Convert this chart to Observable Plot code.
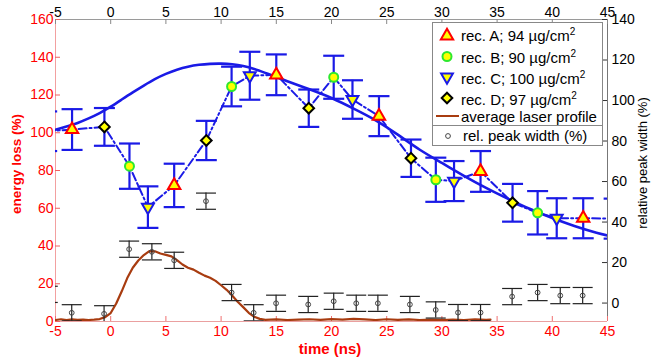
<!DOCTYPE html>
<html><head><meta charset="utf-8">
<script src="https://cdn.jsdelivr.net/npm/d3@7"></script>
<script src="https://cdn.jsdelivr.net/npm/@observablehq/plot@0.6"></script>
<style>
html,body{margin:0;padding:0;background:#fff;}
#wrap{position:relative;width:651px;height:363px;font-family:"Liberation Sans",Arial,Helvetica,sans-serif;overflow:hidden;}
#wrap svg{position:absolute;left:0;top:0;}
.lbl{position:absolute;white-space:nowrap;transform:translate(-50%,-50%);line-height:1;}
</style></head><body><div id="wrap"></div>
<script>
// ---- data ----
const xTicks = [-5, 0, 5, 10, 15, 20, 25, 30, 35, 40, 45];
const yTicks = [0, 20, 40, 60, 80, 100, 120, 140, 160];
const rTicks = [0, 20, 40, 60, 80, 100, 120, 140];

const recA_t = [-3.5, 5.75, 15.0, 24.3, 33.5, 42.8];
const recA_v = [101.7, 72.1, 130.7, 108.8, 79.5, 54.7];
const recA_e = [10.8, 11.5, 10.8, 10.6, 10.8, 10.6];
const recB_t = [1.7, 10.95, 20.2, 29.45, 38.67, 45.9];
const recB_v = [82.3, 124.5, 129.4, 75.1, 57.6, 42.6];
const recB_e = [12.0, 10.5, 11.4, 11.7, 11.5, 10.6];
const recC_t = [-5.8, 3.37, 12.6, 21.9, 31.1, 40.4];
const recC_v = [100.8, 60.6, 130.2, 117.6, 74.4, 54.7];
const recC_e = [10.5, 11.0, 12.7, 10.2, 10.6, 10.6];
const recD_t = [-0.57, 8.66, 17.94, 27.2, 36.4, 45.6];
const recD_v = [103.1, 95.9, 113.0, 86.5, 62.9, 54.5];
const recD_e = [10.0, 10.4, 9.9, 9.9, 10.0, 10.6];

const fit_t = [-5,-4,-3,-2,-1,0,1,2,3,4,5,6,7,8,9,10,11,12,13,14,15,16,18,20,22,24,26,28,30,32,34,36,38,40,42,44,45];
const fit_v = [101.6,103.3,105.2,107.6,110.4,113.8,117.6,121.4,125.0,128.4,131.2,133.4,135.0,136.0,136.5,136.6,136.3,135.4,133.8,131.7,129.5,127.3,123.0,118.4,112.8,106.6,99.0,91.0,84.0,77.2,70.8,65.0,59.6,54.8,50.6,47.0,45.6];

const laser_t = [-5,-4.5,-4,-3.5,-3,-2.5,-2,-1.5,-1,-0.5,0,0.5,1,1.5,2,2.5,3,3.5,4,4.5,5,5.5,6,6.5,7,7.5,8,8.5,9,9.5,10,10.5,11,11.5,12,12.5,13,13.5,14,15,16,17,18,19,20,21,22,23,24,25,26,27,28,29,30,31,32,33,34,34.4];
const laser_v = [0.8,1.2,0.7,1.1,0.9,1.0,0.8,1.0,1.3,2.3,4.5,9.5,16,23,28.5,32.3,35.2,37.3,37.2,36.0,35.3,34.5,32.5,30.2,28.5,27.5,25.8,24.3,23.2,21.5,19.2,16.8,13.8,10.5,7.6,4.6,2.5,1.4,0.9,1.1,0.8,1.0,1.2,0.9,1.3,1.0,1.4,1.1,0.8,1.2,0.9,1.1,0.8,1.0,0.7,1.0,0.8,1.1,0.9,1.0];

const pw_t = [-5.7,-3.53,-0.6,1.67,3.73,5.75,8.63,10.95,12.95,14.98,17.89,20.2,22.24,24.2,27.1,29.44,31.46,33.5,36.36,38.67,40.72,42.75];
const pw_v = [4.3,-4.8,-5.3,26.6,25.3,21.1,50.3,5.2,-4.8,-0.1,-0.7,0.9,-0.1,-0.1,-0.7,-3.4,-4.7,-4.7,3.2,5.2,3.7,3.7];
const pw_e = [4,4,4,4,4,4,4,4,4,4,4,4,4,4,4,4,4,4,4,4,4,4];

// ---- layout / style ----
const W = 651, H = 363, mL = 55, mR = 44, mT = 19, mB = 42;
const plotW = W - mL - mR, plotH = H - mT - mB;
const rDomain = [-9.1, 140];
const yDomain = [0, 160];
const toLeft = r => (r - rDomain[0]) / (rDomain[1] - rDomain[0]) * (yDomain[1] - yDomain[0]) + yDomain[0];
const fromLeft = v => (v - yDomain[0]) / (yDomain[1] - yDomain[0]) * (rDomain[1] - rDomain[0]) + rDomain[0];

const RED = "#ff0000", BLUE = "#1a1ae6", BROWN = "#a83c10", YEL = "#ffff00", GREEN = "#2ee82e";

const mk = (t, v, e, s) => t.map((x, i) => ({t: x, v: v[i], e: e[i], s}));
const A = mk(recA_t, recA_v, recA_e, "A");
const B = mk(recB_t, recB_v, recB_e, "B");
const C = mk(recC_t, recC_v, recC_e, "C");
const D = mk(recD_t, recD_v, recD_e, "D");
const rec = [...A, ...B, ...C, ...D];
const recSorted = rec.slice().sort((a, b) => a.t - b.t);
const fit = fit_t.map((t, i) => ({t, v: fit_v[i]}));
const laser = laser_t.map((t, i) => ({t, v: laser_v[i]}));
const pw = pw_t.map((t, i) => ({t, v: pw_v[i], e: pw_e[i]}));

const cap = {draw(ctx, size) { const r = Math.sqrt(size / Math.PI); ctx.moveTo(-r, 0); ctx.lineTo(r, 0); }};

const chart = Plot.plot({
  width: W, height: H,
  marginLeft: mL, marginRight: mR, marginTop: mT, marginBottom: mB,
  x: {domain: [-5, 45]},
  y: {domain: yDomain},
  style: {fontFamily: '"Liberation Sans", Arial, Helvetica, sans-serif', fontSize: "14px", background: "white", overflow: "visible"},
  marks: [
    // frame lines
    Plot.ruleY([160], {stroke: "#9a9a9a"}),
    Plot.ruleX([45], {stroke: "#777"}),
    Plot.ruleX([-5], {stroke: "#f2a0a0"}),
    Plot.ruleY([0], {stroke: "#eaa0a0"}),
    // inward ticks
    Plot.tickY(yTicks, {y: d => d, stroke: "#f06060", insetRight: plotW - 5}),
    Plot.tickY(rTicks.map(toLeft), {y: d => d, stroke: "#333", insetLeft: plotW - 5}),
    Plot.tickX(xTicks, {x: d => d, stroke: "#f07070", insetTop: plotH - 5}),
    Plot.tickX(xTicks, {x: d => d, stroke: "#888", insetBottom: plotH - 5}),
    // axes labels
    Plot.axisY(yTicks, {anchor: "left", tickSize: 0, tickPadding: 2, fill: RED, label: null, tickFormat: d => String(d)}),
    Plot.axisY(rTicks.map(toLeft), {anchor: "right", tickSize: 0, tickPadding: 4, fill: "#000", label: null, tickFormat: d => String(Math.round(fromLeft(d)))}),
    Plot.axisX(xTicks, {anchor: "bottom", tickSize: 0, tickPadding: 5, fill: RED, label: null, tickFormat: d => String(d)}),
    Plot.axisX(xTicks, {anchor: "top", tickSize: 0, tickPadding: 3, fill: "#000", label: null, tickFormat: d => String(d)}),
    // laser profile
    Plot.line(laser, {x: "t", y: "v", stroke: BROWN, strokeWidth: 2.2, clip: true}),
    // relative peak width
    Plot.ruleX(pw, {x: "t", y1: d => toLeft(d.v - d.e), y2: d => toLeft(d.v + d.e), stroke: "#222", strokeWidth: 1.2, clip: true}),
    Plot.dot(pw, {x: "t", y: d => toLeft(d.v + d.e), symbol: cap, r: 10, stroke: "#222", strokeWidth: 1.2, fill: "none", clip: true}),
    Plot.dot(pw, {x: "t", y: d => toLeft(d.v - d.e), symbol: cap, r: 10, stroke: "#222", strokeWidth: 1.2, fill: "none", clip: true}),
    Plot.dot(pw, {x: "t", y: d => toLeft(d.v), r: 2.4, stroke: "#444", strokeWidth: 1, fill: "none", clip: true}),
    // energy loss error bars
    Plot.ruleX(rec, {x: "t", y1: d => d.v - d.e, y2: d => d.v + d.e, stroke: BLUE, strokeWidth: 2.2, clip: true}),
    Plot.dot(rec, {x: "t", y: d => d.v + d.e, symbol: cap, r: 10.5, stroke: BLUE, strokeWidth: 2.2, fill: "none", clip: true}),
    Plot.dot(rec, {x: "t", y: d => d.v - d.e, symbol: cap, r: 10.5, stroke: BLUE, strokeWidth: 2.2, fill: "none", clip: true}),
    // fit and connecting line
    Plot.line(fit, {x: "t", y: "v", curve: "natural", stroke: BLUE, strokeWidth: 2.6, clip: true}),
    Plot.line(recSorted, {x: "t", y: "v", stroke: BLUE, strokeWidth: 2, strokeDasharray: "8,3,2,3", clip: true}),
    // markers
    Plot.dot(A, {x: "t", y: "v", symbol: "triangle", r: 4.6, fill: YEL, stroke: RED, strokeWidth: 2, clip: true}),
    Plot.dot(B, {x: "t", y: "v", symbol: "circle", r: 4.5, fill: YEL, stroke: GREEN, strokeWidth: 2, clip: true}),
    Plot.dot(C, {x: "t", y: "v", symbol: "triangle", rotate: 180, r: 4.4, fill: YEL, stroke: BLUE, strokeWidth: 2, clip: true}),
    Plot.dot(D, {x: "t", y: "v", symbol: "diamond2", r: 4.8, fill: YEL, stroke: "#000", strokeWidth: 2, clip: true})
  ]
});
const wrap = document.getElementById("wrap");
wrap.appendChild(chart);

// axis titles
function label(text, cx, cy, css) {
  const d = document.createElement("div");
  d.className = "lbl";
  d.textContent = text;
  d.style.left = cx + "px"; d.style.top = cy + "px";
  Object.assign(d.style, css);
  wrap.appendChild(d);
}
label("energy loss (%)", 17, 164, {color: RED, fontWeight: "bold", fontSize: "13.5px", transform: "translate(-50%,-50%) rotate(-90deg)"});
label("time (ns)", 330, 348, {color: RED, fontWeight: "bold", fontSize: "15px"});
label("relative peak width (%)", 642, 163, {color: "#000", fontSize: "13px", transform: "translate(-50%,-50%) rotate(-90deg)"});

// legend
const ns = "http://www.w3.org/2000/svg";
const lg = document.createElementNS(ns, "svg");
lg.setAttribute("width", 171); lg.setAttribute("height", 124);
lg.style.left = "432px"; lg.style.top = "22px";
lg.style.fontFamily = '"Liberation Sans", Arial, Helvetica, sans-serif';
const el = (tag, attrs, parent = lg) => { const e = document.createElementNS(ns, tag); for (const k in attrs) e.setAttribute(k, attrs[k]); parent.appendChild(e); return e; };
el("rect", {x: 0.5, y: 0.5, width: 170, height: 123, fill: "#fff", stroke: "#888"});
el("line", {x1: 0.5, x2: 170.5, y1: 103.5, y2: 103.5, stroke: "#888"});
const sym = (type, s) => d3.symbol(d3["symbol" + type], s)();
const rows = [
  {y: 14, txt: "rec. A; 94 µg/cm", sup: true, draw: g => el("path", {d: sym("Triangle", 66), transform: "translate(15,14)", fill: YEL, stroke: RED, "stroke-width": 2}, g)},
  {y: 35.5, txt: "rec. B; 90 µg/cm", sup: true, draw: g => el("circle", {cx: 15, cy: 34.5, r: 4.5, fill: YEL, stroke: GREEN, "stroke-width": 2}, g)},
  {y: 57, txt: "rec. C; 100 µg/cm", sup: true, draw: g => el("path", {d: sym("Triangle", 60), transform: "translate(15,55) rotate(180)", fill: YEL, stroke: BLUE, "stroke-width": 2}, g)},
  {y: 77.5, txt: "rec. D; 97 µg/cm", sup: true, draw: g => el("path", {d: sym("Diamond2", 72), transform: "translate(15,76)", fill: YEL, stroke: "#000", "stroke-width": 2}, g)},
  {y: 94.5, txt: "average laser profile", sup: false, draw: g => el("line", {x1: 4, x2: 27, y1: 94, y2: 94, stroke: BROWN, "stroke-width": 2}, g)},
  {y: 114, txt: "rel. peak width (%)", sup: false, x: 31, draw: g => el("circle", {cx: 16, cy: 114, r: 2.4, fill: "none", stroke: "#444"}, g)}
];
for (const r of rows) {
  r.draw(lg);
  const t = el("text", {x: r.x || 29, y: r.y + 5, "font-size": 15, fill: "#000"});
  t.textContent = r.txt;
  if (r.sup) { const s = el("tspan", {dy: -6, "font-size": 10}, t); s.textContent = "2"; }
}
wrap.appendChild(lg);
</script>
</body></html>
